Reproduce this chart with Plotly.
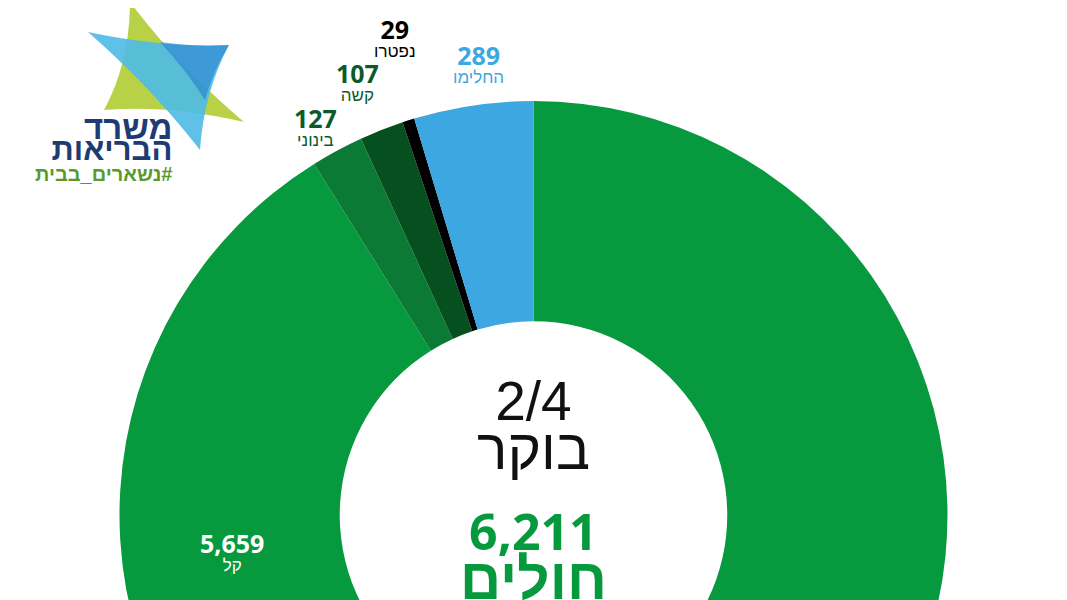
import plotly.graph_objects as go

# ---- data (clockwise from 12 o'clock) ----
labels = ["קל", "בינוני", "קשה", "נפטרו", "החלימו"]
values = [5659, 127, 107, 29, 289]
colors = ["#07993d", "#0a7a34", "#06501f", "#000000", "#3ca7e0"]
date_text = "2/4"
time_text = "בוקר"
total_label = "חולים"
logo_lines = ["משרד", "הבריאות", "\u200f#נשארים_בבית"]

W, H = 1067, 1030
OFF = 8  # page body margin
CX, CY, R = 533.5, 515, 414


def px(x, y):
    return (x - OFF) / W, 1 - (y - OFF) / H


xa, _ = px(CX, 0)
y0 = 1 - (CY + R - OFF) / H
y1 = 1 - (CY - R - OFF) / H

fig = go.Figure()
fig.add_trace(go.Pie(
    labels=labels, values=values, sort=False, direction="clockwise",
    rotation=0, hole=0.468, textinfo="none", hoverinfo="skip",
    marker=dict(colors=colors, line=dict(width=0)),
    domain=dict(x=[xa - R / W, xa + R / W], y=[y0, y1]), showlegend=False,
))

NUMF = "Open Sans, Liberation Sans, DejaVu Sans, sans-serif"
ARF = "Liberation Sans, Arial, DejaVu Sans, sans-serif"
# (x centre, y centre of the two-line block) in pixels
label_pos = {"קל": (232, 550), "בינוני": (315, 125), "קשה": (357, 81),
             "נפטרו": (395, 36), "החלימו": (478, 63)}
text_col = {"קל": "#ffffff", "בינוני": "#0b5a2a", "קשה": "#0b5a2a",
            "נפטרו": "#000000", "החלימו": "#3ca7e0"}

annotations = []
for lab, val in zip(labels, values):
    x, y = label_pos[lab]
    ax, ay = px(x, y)
    annotations.append(dict(
        x=ax, y=ay, xref="paper", yref="paper", showarrow=False,
        text=(f"<span style='font-family:Open Sans;font-size:25px;font-weight:800'><b>{val:,}</b></span>"
              f"<br><span style='font-size:17px'>{lab}</span>"),
        xanchor="center", yanchor="middle", align="center",
        font=dict(family=ARF, size=14, color=text_col[lab])))

total = sum(values)
# date + time block
ax, ay = px(CX, 426)
annotations.append(dict(x=ax, y=ay, xref="paper", yref="paper", showarrow=False,
                        text=(f"<span style='font-size:55px'>{date_text}</span><br>"
                              f"<span style='font-size:57px'>{time_text}</span>"),
                        xanchor="center", yanchor="middle", align="center",
                        font=dict(family=ARF, size=38, color="#111111")))
# total block
ax, ay = px(CX, 554)
annotations.append(dict(x=ax, y=ay, xref="paper", yref="paper", showarrow=False,
                        text=(f"<span style='font-family:Open Sans;font-size:50px;font-weight:800'><b>{total:,}</b></span><br>"
                              f"<span style='font-size:57px'><b>{total_label}</b></span>"),
                        xanchor="center", yanchor="middle", align="center",
                        font=dict(family=ARF, size=38, color="#07993d")))

# logo text block
ax, ay = px(174, 147)
annotations.append(dict(x=ax, y=ay, xref="paper", yref="paper", showarrow=False,
                        text=(f"<span style='font-size:33px;color:#1f3b73'><b>{logo_lines[0]}</b></span><br>"
                              f"<span style='font-size:31px;color:#1f3b73'><b>{logo_lines[1]}</b></span><br>"
                              f"<span style='font-size:20px;color:#5a9a2a'><b>{logo_lines[2]}</b></span>"),
                        xanchor="right", yanchor="middle", align="right",
                        font=dict(family=ARF, size=16, color="#1f3b73")))


def curved_tri(pts, k=0.35):
    cx = sum(p[0] for p in pts) / 3
    cy = sum(p[1] for p in pts) / 3
    fx, fy = px(*pts[0])
    s = f"M{fx:.5f},{fy:.5f} "
    for j in range(3):
        a = pts[j]
        b = pts[(j + 1) % 3]
        mx, my = (a[0] + b[0]) / 2, (a[1] + b[1]) / 2
        qx, qy = mx + (cx - mx) * k, my + (cy - my) * k
        qfx, qfy = px(qx, qy)
        bfx, bfy = px(*b)
        s += f"Q{qfx:.5f},{qfy:.5f} {bfx:.5f},{bfy:.5f} "
    return s + "Z"


shapes = [
    dict(type="path", xref="paper", yref="paper", line=dict(width=0), fillcolor="rgba(176,204,50,0.9)",
         path=curved_tri([(130, 2), (244, 122), (104, 110)], 0.3)),
    dict(type="path", xref="paper", yref="paper", line=dict(width=0), fillcolor="rgba(78,186,230,0.9)",
         path=curved_tri([(88, 32), (229, 45), (200, 150)], 0.25)),
    dict(type="path", xref="paper", yref="paper", line=dict(width=0), fillcolor="rgba(35,120,200,0.55)",
         path=curved_tri([(160, 42), (229, 45), (205, 100)], 0.2)),
]

fig.update_layout(width=W, height=H, margin=dict(l=0, r=0, t=0, b=0),
                  paper_bgcolor="white", plot_bgcolor="white",
                  annotations=annotations, shapes=shapes)
fig.write_html("out.html")
